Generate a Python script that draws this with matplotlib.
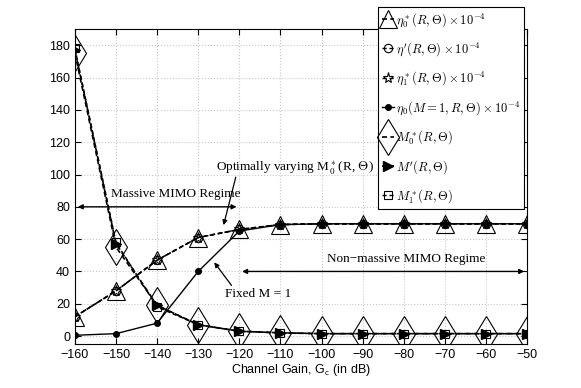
import matplotlib
matplotlib.use("Agg")
import matplotlib.pyplot as plt
import numpy as np

# channel gain in dB
gain = [-160, -150, -140, -130, -120, -110, -100, -90, -80, -70, -60, -50]

# energy efficiencies (x 1e-4)
eta0_star = [12, 28, 47, 61, 66, 69, 69.5, 69.5, 69.5, 69.5, 69.5, 69.5]
eta_prime = [12, 28, 47, 61, 66, 69, 69.5, 69.5, 69.5, 69.5, 69.5, 69.5]
eta1_star = [12, 28, 47, 61, 66, 69, 69.5, 69.5, 69.5, 69.5, 69.5, 69.5]
eta0_m1 = [0.5, 1.5, 8, 40, 65, 69, 69.5, 69.5, 69.5, 69.5, 69.5, 69.5]

# number of antennas
M0_star = [175, 55, 19, 7, 3, 2, 1.5, 1.5, 1.5, 1.5, 1.5, 1.5]
M_prime = [177, 57, 19, 7, 3, 2, 1.5, 1.5, 1.5, 1.5, 1.5, 1.5]
M1_star = [178, 58, 18, 7, 3, 2, 1.5, 1.5, 1.5, 1.5, 1.5, 1.5]

plt.rcParams['font.family'] = ['Liberation Sans Narrow', 'Liberation Sans', 'DejaVu Sans']
plt.rcParams['mathtext.fontset'] = 'cm'

fig = plt.figure(figsize=(5.81, 3.88), dpi=100)
ax = fig.add_axes([0.129, 0.113, 0.778, 0.812])

dash = (0, (3, 2))
h1, = ax.plot(gain, eta0_star, color='k', ls=dash, marker='^', ms=13, mfc='none', mew=0.8, lw=1.2,
              label=r'$\eta_0^*(R,\Theta)\times10^{-4}$')
h2, = ax.plot(gain, eta_prime, color='k', ls=dash, marker='o', ms=6, mfc='none', mew=0.8, lw=1.0,
              label=r"$\eta'(R,\Theta)\times10^{-4}$")
h3, = ax.plot(gain, eta1_star, color='k', ls=dash, marker='*', ms=8, mfc='none', mew=0.8, lw=1.0,
              label=r'$\eta_1^*(R,\Theta)\times10^{-4}$')
h4, = ax.plot(gain, eta0_m1, 'k-', marker='o', ms=4, lw=1.0,
              label=r'$\eta_0(M=1,R,\Theta)\times10^{-4}$')
h5, = ax.plot(gain, M0_star, color='k', ls=dash, marker='d', ms=18, mfc='none', mew=0.8, lw=1.2,
              label=r'$M_0^*(R,\Theta)$')
h6, = ax.plot(gain, M_prime, color='k', ls=dash, marker='>', ms=7, lw=1.2,
              label=r"$M'(R,\Theta)$")
h7, = ax.plot(gain, M1_star, color='k', ls=dash, marker='s', ms=6, mfc='none', mew=0.8, lw=1.0,
              label=r'$M_1^*(R,\Theta)$')

ax.set_xlim(-160, -50)
ax.set_ylim(-5, 190)
ax.set_xticks(np.arange(-160, -49, 10))
ax.set_yticks(np.arange(0, 181, 20))
ax.grid(True, color='#c8c8c8', linestyle=':', linewidth=0.8)
ax.tick_params(direction='in', labelsize=9, length=4, top=True, right=True)
for s in ax.spines.values():
    s.set_linewidth(0.8)
ax.set_xlabel(r'Channel Gain, G$_\mathsf{c}$ (in dB)', fontsize=9, labelpad=1)

serif = 'Liberation Serif'
# regime arrows
ax.annotate('', xy=(-160, 80), xytext=(-120, 80),
            arrowprops=dict(arrowstyle='<|-|>', color='k', lw=1.0, mutation_scale=7))
ax.text(-135.5, 88, 'Massive MIMO Regime', family=serif, fontsize=9.5, ha='center', va='center')
ax.annotate('', xy=(-120, 40), xytext=(-50, 40),
            arrowprops=dict(arrowstyle='<|-|>', color='k', lw=1.0, mutation_scale=7))
ax.text(-79.5, 48, 'Non\u2212massive MIMO Regime', family=serif, fontsize=9.5, ha='center', va='center')

ax.text(-106.5, 104, r'Optimally varying M$_0^*$(R, $\Theta$)', family=serif, fontsize=9.5,
        ha='center', va='center')
ax.annotate('', xy=(-124, 67), xytext=(-120.7, 100),
            arrowprops=dict(arrowstyle='-|>', color='k', lw=0.9, mutation_scale=7))
ax.text(-115.5, 26, 'Fixed M = 1', family=serif, fontsize=9.5, ha='center', va='center')
ax.annotate('', xy=(-126.5, 47), xytext=(-121.5, 30),
            arrowprops=dict(arrowstyle='-|>', color='k', lw=0.9, mutation_scale=7))

leg = ax.legend(handles=[h1, h2, h3, h4, h5, h6, h7], loc='upper left',
                bbox_to_anchor=(0.651, 0.982), bbox_transform=fig.transFigure,
                fontsize=9, handlelength=1.0, handletextpad=0.1, labelspacing=0.93,
                borderpad=0.3, borderaxespad=0, fancybox=False, framealpha=1,
                edgecolor='k')
leg.get_frame().set_linewidth(0.8)

fig.savefig('out.png', dpi=100)
